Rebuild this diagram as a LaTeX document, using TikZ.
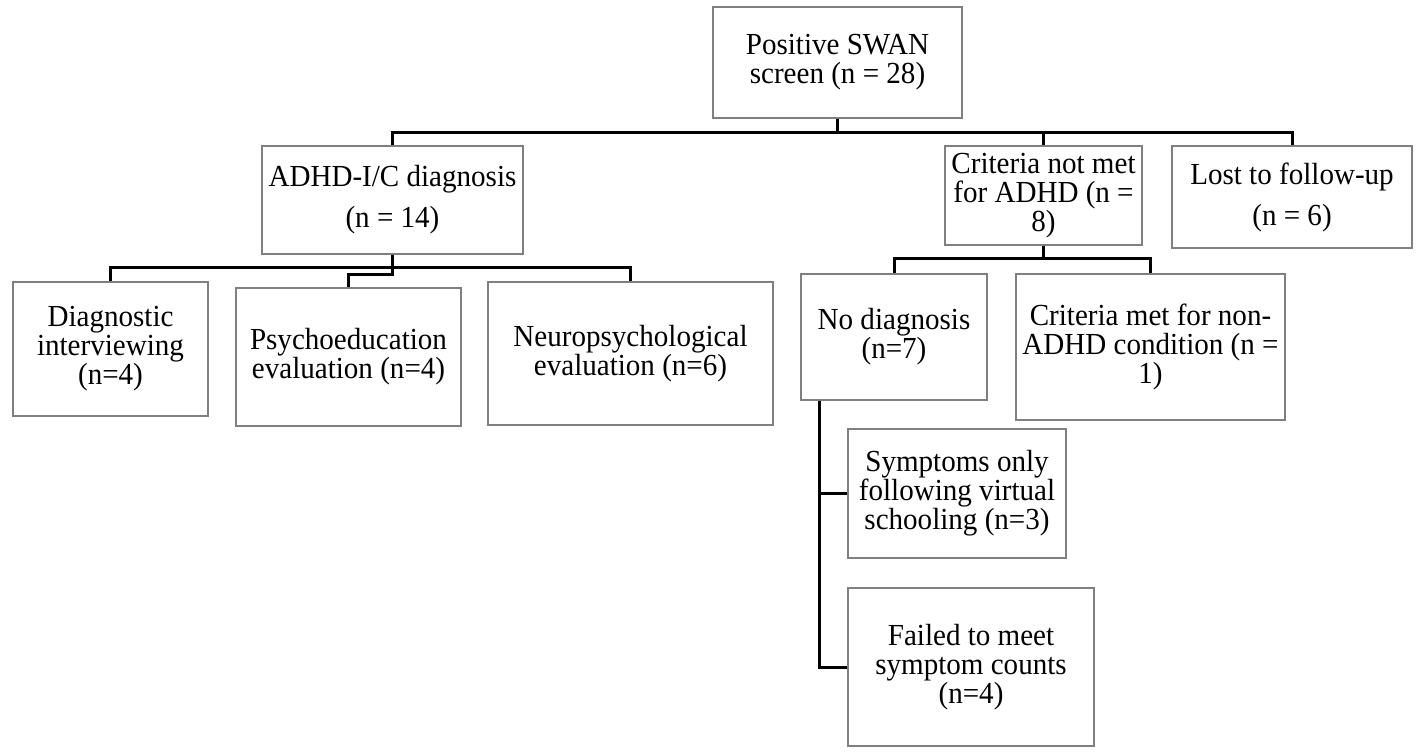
\documentclass[tikz,border=0pt]{standalone}
\usepackage{fontspec}
\setmainfont{Liberation Serif}[FakeStretch=0.95]
\usepackage{tikz}
\usetikzlibrary{calc}
\definecolor{rim}{HTML}{808080}
\tikzset{
  box/.style={draw=rim, fill=white, line width=0.6pt, align=center, inner sep=2pt,
              font=\fontsize{15.3pt}{14.5pt}\selectfont},
  airy/.style={box, font=\fontsize{15.3pt}{20.5pt}\selectfont},
  link/.style={line width=1.5pt, color=black},
}

\begin{document}
\begin{tikzpicture}[x=0.5pt, y=-0.5pt]
\useasboundingbox (0,0) rectangle (1416,752);

% first row
\node[box, minimum width=124.5pt, minimum height=55.5pt] (screen) at (837.5,62.5) {Positive SWAN\\screen (n = 28)};

% second row
\node[airy, minimum width=130.5pt, minimum height=54pt] (adhd) at (392.5,200) {ADHD-I/C diagnosis\\(n = 14)};
\node[box, minimum width=98.5pt, minimum height=49.5pt] (notmet) at (1043.5,195.5) {Criteria not met\\for ADHD (n =\\8)};
\node[airy, minimum width=120pt, minimum height=51pt] (lost) at (1292,197) {Lost to follow-up\\(n = 6)};

% third row
\node[box, minimum width=97.5pt, minimum height=67pt] (diag) at (110.5,349) {Diagnostic\\interviewing\\(n=4)};
\node[box, minimum width=112.5pt, minimum height=69pt] (psycho) at (348.5,357) {Psychoeducation\\evaluation (n=4)};
\node[box, minimum width=142.5pt, minimum height=71.5pt] (neuro) at (630.5,353.5) {Neuropsychological\\evaluation (n=6)};
\node[box, minimum width=93pt, minimum height=63pt] (nodiag) at (894,337) {No diagnosis\\(n=7)};
\node[box, minimum width=134.5pt, minimum height=73pt] (nonadhd) at (1150.5,347) {Criteria met for non-\\ADHD condition (n =\\1)};

% under no diagnosis
\node[box, minimum width=109pt, minimum height=64.5pt] (symp) at (957,493.5) {Symptoms only\\following virtual\\schooling (n=3)};
\node[box, minimum width=123pt, minimum height=79pt] (failed) at (971,667) {Failed to meet\\symptom counts\\(n=4)};

% connectors
\coordinate (split1) at (837.5,132);
\foreach \c in {adhd,notmet,lost}
  \draw[link] (screen.south) |- (split1 -| \c.north) -- (\c.north);

\coordinate (split2) at (392.5,267);
\foreach \c in {diag,neuro}
  \draw[link] (adhd.south) |- (split2 -| \c.north) -- (\c.north);
\draw[link] (adhd.south) -- ++(0,20) -| (psycho.north);

\coordinate (split3) at (1043.5,258);
\foreach \c in {nodiag,nonadhd}
  \draw[link] (notmet.south) |- (split3 -| \c.north) -- (\c.north);

\coordinate (rail) at ($(nodiag.south west)+(19.5,0)$);
\foreach \c in {symp,failed}
  \draw[link] (rail) |- (\c.west);
\end{tikzpicture}
\end{document}
